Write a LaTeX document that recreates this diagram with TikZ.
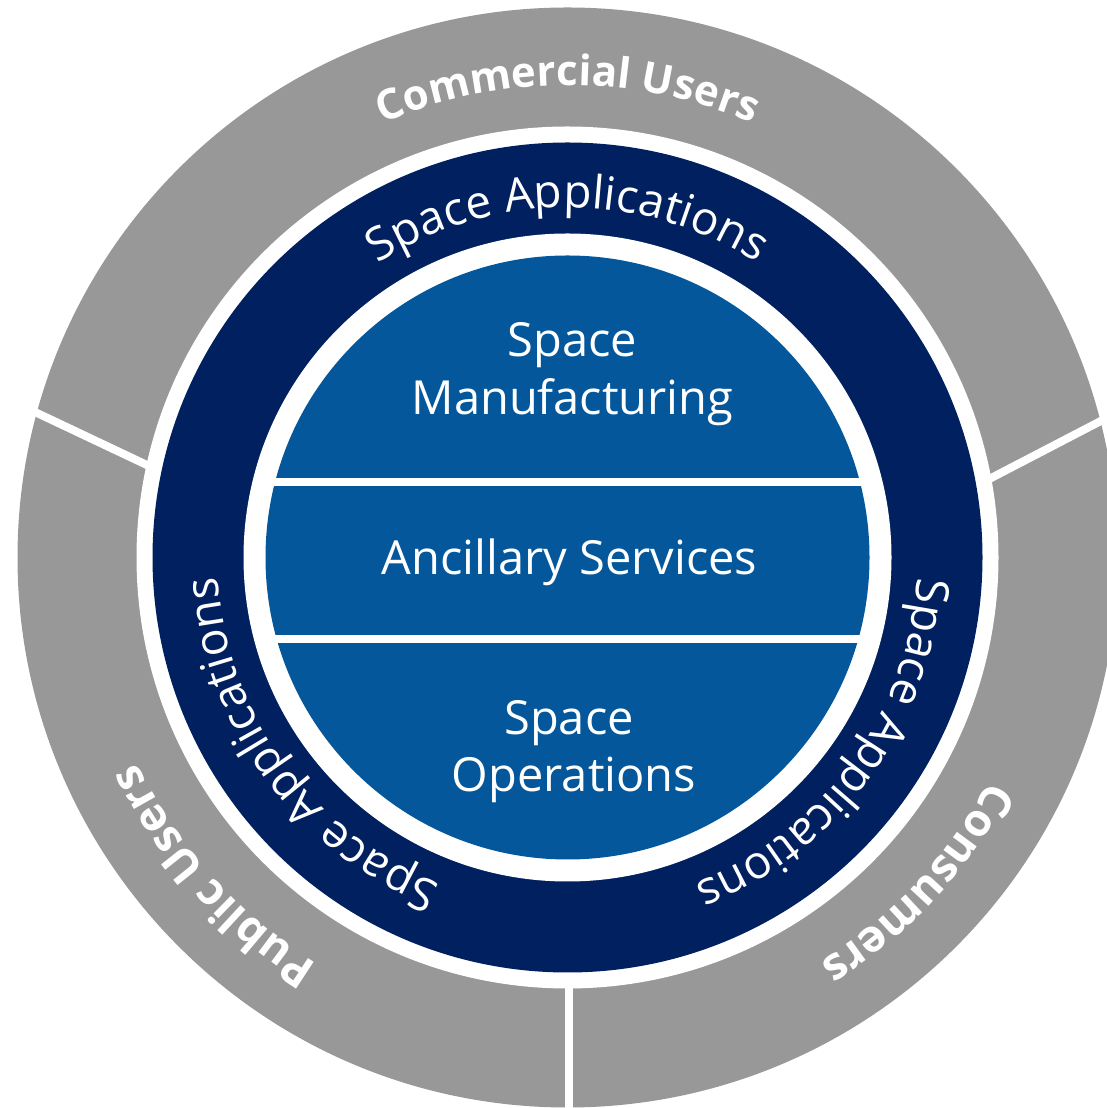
\documentclass[tikz,border=0pt]{standalone}
\usepackage{fontspec}
\setmainfont{Open Sans}
\usetikzlibrary{decorations.text}
\definecolor{ringgray}{HTML}{989898}
\definecolor{navy}{HTML}{00205F}
\definecolor{midblue}{HTML}{03579A}
\begin{document}
\begin{tikzpicture}[x=1pt,y=1pt,
  centertext/.style={text=white, font=\fontsize{47}{56}\selectfont, inner sep=0pt, anchor=base},
  divider/.style={draw=white, line width=8pt},
  band/.style={fill=white},
  arclabel/.style={decorate, decoration={text along path, text align=center, text={|\fontsize{46}{55}\selectfont\color{white}|#1}}},
  userlabel/.style 2 args={decorate, decoration={text along path, text align=center, text={|\fontsize{#2}{50}\selectfont\bfseries\color{white}|#1}}},
]
\useasboundingbox (0,0) rectangle (1107,1108);
\clip (0,0) rectangle (1107,1108);
\coordinate (O) at (567.5,550.5);
% rings
\fill[ringgray] (O) circle[radius=550pt];
\fill[white] (O) circle[radius=431pt];
\fill[navy] (O) circle[radius=415pt];
\fill[white] (O) circle[radius=324pt];
\fill[midblue] (O) circle[radius=302pt];
% white bands across the inner disc
\begin{scope}
  \clip (O) circle[radius=310pt];
  \fill[band] (200,622) rectangle (940,630);
  \fill[band] (200,464.5) rectangle (940,472.5);
\end{scope}
% dividers of the outer ring
\coordinate (dlA) at (152.4,640.4);
\coordinate (dlB) at (18,704);
\coordinate (drA) at (987.7,628.2);
\coordinate (drB) at (1122,698);
\coordinate (dbA) at (569,126);
\coordinate (dbB) at (569,-10);
\draw[divider] (dlA) -- (dlB);
\draw[divider] (drA) -- (drB);
\draw[divider] (dbA) -- (dbB);
% curved labels
\begin{scope}[shift={(567.5,550.5)}]
  \path[arclabel={Space Applications}] (150:350pt) arc[start angle=150, end angle=30, radius=350pt];
  \path[arclabel={Space Applications}] (276:350pt) arc[start angle=276, end angle=156, radius=350pt];
  \path[arclabel={Space Applications}] (384:350pt) arc[start angle=384, end angle=264, radius=350pt];
  \path[userlabel={Commercial Users}{42}] (140:472pt) arc[start angle=140, end angle=40, radius=472pt];
  \path[userlabel={Public Users}{45}] (263:477pt) arc[start angle=263, end angle=181, radius=477pt];
  \path[userlabel={Consumers}{45}] (358:477pt) arc[start angle=358, end angle=276, radius=477pt];
\end{scope}
% centre texts
\node[centertext] (sm1) at (572.5,751) {Space};
\node[centertext] (sm2) at (572.5,693) {Manufacturing};
\node[centertext] (anc) at (569.5,533) {Ancillary Services};
\node[centertext] (so1) at (569,373) {Space};
\node[centertext] (so2) at (574,316) {Operations};
\end{tikzpicture}
\end{document}
